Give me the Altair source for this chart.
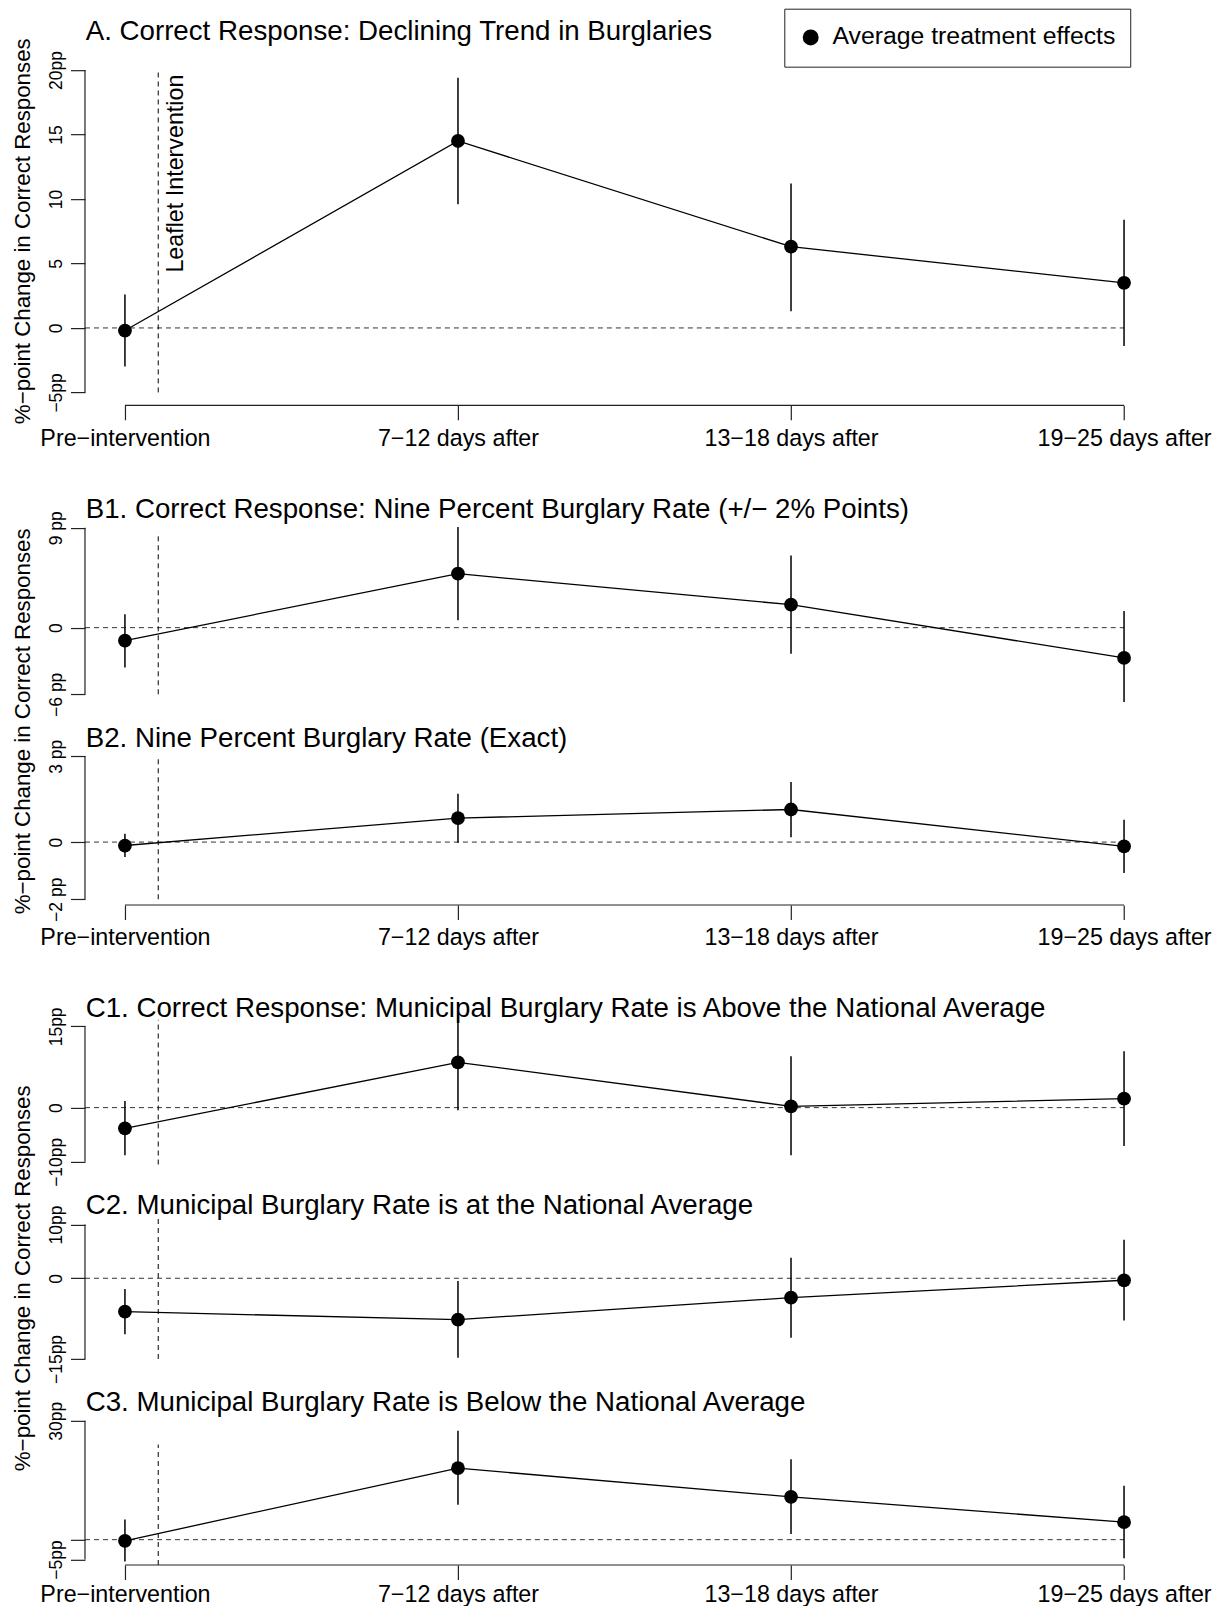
import altair as alt
import pandas as pd

FONT = "Liberation Sans"

# ---------------- data ----------------
periods = ["Pre−intervention", "7−12 days after", "13−18 days after", "19−25 days after"]
period_pos = [1, 2, 3, 4]
series_label = "Average treatment effects"
ylab_text = "%−point Change in Correct Responses"
leaflet_label = "Leaflet Intervention"

panel_titles = [
    "A. Correct Response: Declining Trend in Burglaries",
    "B1. Correct Response: Nine Percent Burglary Rate (+/− 2% Points)",
    "B2. Nine Percent Burglary Rate (Exact)",
    "C1. Correct Response: Municipal Burglary Rate is Above the National Average",
    "C2. Municipal Burglary Rate is at the National Average",
    "C3. Municipal Burglary Rate is Below the National Average",
]

a_est = [-0.2, 14.5, 6.3, 3.5]
a_low = [-3.0, 9.6, 1.3, -1.4]
a_high = [2.6, 19.4, 11.2, 8.4]

b1_est = [-1.17, 4.86, 2.07, -2.73]
b1_low = [-3.6, 0.66, -2.34, -6.7]
b1_high = [1.2, 9.06, 6.51, 1.5]

b2_est = [-0.12, 0.84, 1.14, -0.15]
b2_low = [-0.52, -0.02, 0.17, -1.08]
b2_high = [0.29, 1.69, 2.1, 0.78]

c1_est = [-3.82, 8.36, 0.24, 1.66]
c1_low = [-8.8, -0.5, -8.8, -7.09]
c1_high = [1.2, 17.3, 9.47, 10.39]

c2_est = [-6.2, -7.69, -3.6, -0.37]
c2_low = [-10.4, -14.76, -11.04, -7.85]
c2_high = [-1.99, -0.5, 3.83, 7.17]

c3_est = [-0.28, 18.04, 10.8, 4.4]
c3_low = [-5.5, 8.8, 1.4, -4.67]
c3_high = [5.1, 27.5, 20.3, 13.6]

a_ticks = [-5, 0, 5, 10, 15, 20]
a_tick_labels = ["−5pp", "0", "5", "10", "15", "20pp"]
b1_ticks = [-6, 0, 9]
b1_tick_labels = ["−6 pp", "0", "9 pp"]
b2_ticks = [-2, 0, 3]
b2_tick_labels = ["−2 pp", "0", "3 pp"]
c1_ticks = [-10, 0, 15]
c1_tick_labels = ["−10pp", "0", "15pp"]
c2_ticks = [-15, 0, 10]
c2_tick_labels = ["−15pp", "0", "10pp"]
c3_ticks = [-5, 0, 30]
c3_tick_labels = ["−5pp", "", "30pp"]

leaflet_x = 1.1
a_vline = [-5, 20]
b1_vline = [-6, 8.6]
b2_vline = [-2, 3]
c1_vline = [-10.5, 16.2]
c2_vline = [-15, 11.3]
c3_vline = [-6.4, 24]

# ---------------- layout (pixels on the page) ----------------
W = 1079.3
XLIM = [1 - 0.04 * 3, 4 + 0.04 * 3]
# (plot top, R-region top, R-region bottom, title baseline)
lay_a = (57.5, 57.5, 405.7, 40.5)
lay_b1 = (405.7, 520.7, 700.6, 517.3)
lay_b2 = (700.6, 750.2, 904.6, 746.7)
lay_c1 = (904.6, 1020.6, 1166.9, 1016.7)
lay_c2 = (1166.9, 1218.1, 1363.4, 1213.0)
lay_c3 = (1363.4, 1413.8, 1563.6, 1410.0)

TICK = 14.5
AXCOL = "#222"


def ternary(values, labels):
    expr = "''"
    for v, l in reversed(list(zip(values, labels))):
        expr = f"datum.value == {v} ? '{l}' : ({expr})"
    return expr


one = pd.DataFrame({"k": [0]})


def panel(title, est, low, high, ticks, tick_labels, vline, lay, show_x,
          ylab_y=None, legend=False, leaflet=False, xlabel_pad=25.5):
    plot_top, r_top, r_bot, t_base = lay
    lo, hi = ticks[0], ticks[-1]
    rng = hi - lo
    dlo = lo - 0.04 * rng
    dhi = hi + 0.04 * rng
    ppu = (r_bot - r_top) / (dhi - dlo)
    H = r_bot - plot_top
    dtop = dlo + H / ppu

    xs = alt.Scale(domain=XLIM, nice=False, zero=False)
    ys = alt.Scale(domain=[dlo, dtop], nice=False, zero=False)

    if show_x:
        xaxis = alt.Axis(values=period_pos, labelExpr=ternary(period_pos, periods),
                         domain=False, grid=False, ticks=True, tickSize=TICK,
                         tickColor=AXCOL, tickWidth=1.2, labelPadding=xlabel_pad,
                         labelFontSize=23.3, labelFont=FONT, labelColor="black",
                         labelBaseline="alphabetic", labelAlign="center",
                         labelFlush=False, labelOverlap=False, title=None)
    else:
        xaxis = None
    yaxis = alt.Axis(values=ticks, labelExpr=ternary(ticks, tick_labels),
                     domain=False, grid=False, ticks=True, tickSize=TICK,
                     tickColor=AXCOL, tickWidth=1.2, labelAngle=270,
                     labelAlign="center", labelBaseline="alphabetic",
                     labelPadding=8.6, labelFontSize=17.5, labelFont=FONT,
                     labelColor="black", labelFlush=False, labelOverlap=False,
                     title=None)

    def XD(v):
        return alt.XDatum(v, scale=xs, axis=xaxis)

    def YD(v):
        return alt.YDatum(v, scale=ys, axis=yaxis)

    df = pd.DataFrame({"pos": period_pos, "period": periods, "est": est,
                       "low": low, "high": high,
                       "series": [series_label] * len(est)})
    base = alt.Chart(df)

    zero = alt.Chart(one).mark_rule(color="#333", strokeDash=[5, 4], strokeWidth=1).encode(
        x=XD(XLIM[0]), x2=alt.datum(4), y=YD(0))
    vl = alt.Chart(one).mark_rule(color="black", strokeDash=[5, 4], strokeWidth=1).encode(
        x=XD(leaflet_x), y=YD(vline[0]), y2=alt.datum(vline[1]))
    ci = base.mark_rule(color="black", strokeWidth=1.5).encode(
        x=alt.X("pos:Q", scale=xs, axis=xaxis),
        y=alt.Y("low:Q", scale=ys, axis=yaxis), y2="high:Q")
    line = base.mark_line(color="black", strokeWidth=1.3).encode(
        x=alt.X("pos:Q", scale=xs, axis=xaxis),
        y=alt.Y("est:Q", scale=ys, axis=yaxis))
    if legend:
        col = alt.Color("series:N", scale=alt.Scale(range=["black"]),
                        legend=alt.Legend(orient="none", legendX=699.5, legendY=-48.5,
                                          title=None, strokeColor="#222", padding=14,
                                          fillColor="white", symbolType="circle",
                                          symbolSize=254, symbolFillColor="black",
                                          symbolStrokeWidth=0, labelFontSize=24.8,
                                          labelFont=FONT, labelColor="black",
                                          labelOffset=9.4, labelLimit=500,
                                          clipHeight=29.5))
    else:
        col = alt.value("black")
    pts = base.mark_point(filled=True, shape="circle", size=190, opacity=1).encode(
        x=alt.X("pos:Q", scale=xs, axis=xaxis),
        y=alt.Y("est:Q", scale=ys, axis=yaxis), color=col)
    yrule = alt.Chart(one).mark_rule(color=AXCOL, strokeWidth=1.2).encode(
        x=XD(XLIM[0]), y=YD(lo), y2=alt.datum(hi))
    layers = [zero, vl, ci, line, pts, yrule]
    if show_x:
        xrule = alt.Chart(one).mark_rule(color=AXCOL, strokeWidth=1.2).encode(
            x=XD(1), x2=alt.datum(4), y=YD(dlo))
        layers.append(xrule)
    ttl = alt.Chart(pd.DataFrame({"t": [title]})).mark_text(
        align="left", baseline="alphabetic", fontSize=27.7, font=FONT, color="black").encode(
        x=alt.value(0.7), y=alt.value(t_base - plot_top), text="t:N")
    layers.append(ttl)
    if ylab_y is not None:
        yl = alt.Chart(pd.DataFrame({"t": [ylab_text]})).mark_text(
            angle=270, align="center", baseline="alphabetic", fontSize=22.3,
            font=FONT, color="black").encode(
            x=alt.value(-55.3), y=alt.value(ylab_y - plot_top), text="t:N")
        layers.append(yl)
    if leaflet:
        lt = alt.Chart(pd.DataFrame({"t": [leaflet_label]})).mark_text(
            angle=270, align="right", baseline="alphabetic", fontSize=23.3,
            font=FONT, color="black").encode(
            x=XD(1.173), y=YD(19.65), text="t:N")
        layers.append(lt)
    return alt.layer(*layers).properties(width=W, height=H)


pA = panel(panel_titles[0], a_est, a_low, a_high, a_ticks, a_tick_labels, a_vline, lay_a,
           True, ylab_y=231.6, legend=True, leaflet=True)
pB1 = panel(panel_titles[1], b1_est, b1_low, b1_high, b1_ticks, b1_tick_labels, b1_vline,
            lay_b1, False, ylab_y=721.0)
pB2 = panel(panel_titles[2], b2_est, b2_low, b2_high, b2_ticks, b2_tick_labels, b2_vline,
            lay_b2, True)
pC1 = panel(panel_titles[3], c1_est, c1_low, c1_high, c1_ticks, c1_tick_labels, c1_vline,
            lay_c1, False, ylab_y=1278.0)
pC2 = panel(panel_titles[4], c2_est, c2_low, c2_high, c2_ticks, c2_tick_labels, c2_vline,
            lay_c2, False)
pC3 = panel(panel_titles[5], c3_est, c3_low, c3_high, c3_ticks, c3_tick_labels, c3_vline,
            lay_c3, True, xlabel_pad=22.0)

chart = alt.vconcat(pA, pB1, pB2, pC1, pC2, pC3, spacing=0, bounds="flush",
                    padding={"left": 3, "top": 0, "right": 5, "bottom": 12}
                    ).resolve_scale(color="independent").configure(font=FONT).configure_view(stroke=None)

chart.save("out.html", embed_options={"renderer": "svg", "actions": False})
